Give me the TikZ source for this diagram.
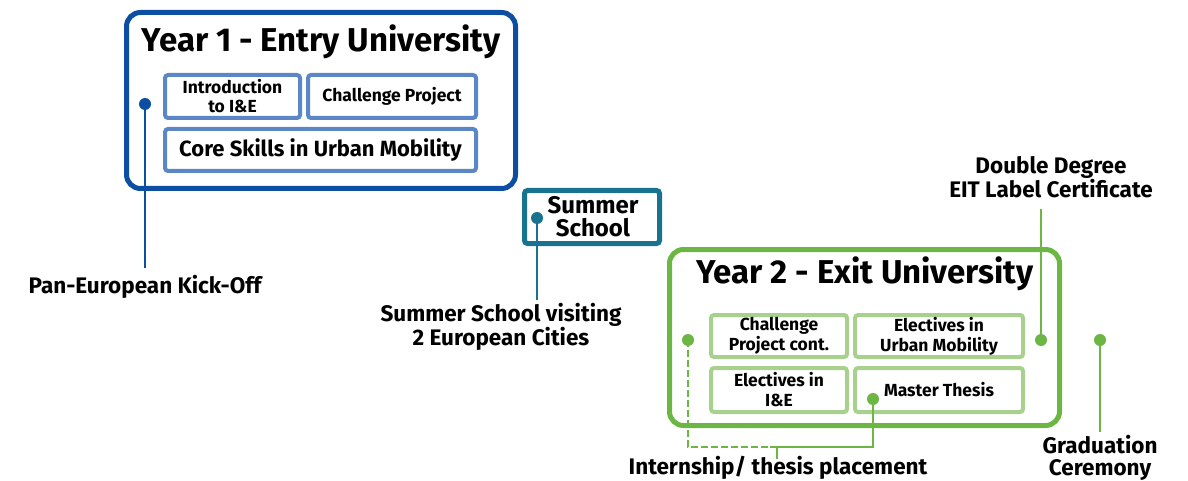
\documentclass[tikz,border=0pt]{standalone}
\usepackage{fontspec}
\setmainfont{Fira Sans}
\definecolor{dblue}{HTML}{0B4EA2}
\definecolor{lblue}{HTML}{5B87C6}
\definecolor{teal2}{HTML}{17738F}
\definecolor{dgreen}{HTML}{6CB644}
\definecolor{lgreen}{HTML}{A9D18E}
\tikzset{
  outerbox/.style={draw, line width=5pt, rounded corners=14pt, inner sep=0pt, anchor=center},
  innerbox/.style={draw, line width=4pt, rounded corners=3pt, inner sep=0pt, align=center, anchor=center, font=\bfseries\fontsize{17.5}{19}\selectfont},
  dot/.style={circle, fill, inner sep=0pt, minimum size=12pt},
  lab/.style={inner sep=0pt, align=center, font=\bfseries\fontsize{22.5}{21.5}\selectfont},
  title/.style={inner sep=0pt, font=\bfseries\fontsize{33}{33}\selectfont},
  conn/.style={line width=2.2pt}
}
\begin{document}
\begin{tikzpicture}[x=1pt,y=-1pt]
\useasboundingbox (0,0) rectangle (1188,481);
% Year 1
\node[outerbox, dblue, minimum width=389pt, minimum height=176pt] (y1) at (321,100.5) {};
\node[title] (y1t) at (321,42) {Year 1 - Entry University};
\node[innerbox, lblue, text=black, minimum width=135pt, minimum height=43pt] (intro) at (232.5,96.5) {Introduction\\to I\&E};
\node[innerbox, lblue, text=black, minimum width=168pt, minimum height=43pt] (chal) at (392,96.5) {Challenge Project};
\node[innerbox, lblue, text=black, minimum width=311pt, minimum height=42pt, font=\bfseries\fontsize{22}{20}\selectfont] (core) at (320.5,150) {Core Skills in Urban Mobility};
% Summer school
\node[outerbox, teal2, rounded corners=3pt, minimum width=135pt, minimum height=53pt] (ss) at (592,217) {};
\node[title, align=center, font=\bfseries\fontsize{24}{23}\selectfont] (sst) at (593,217) {Summer\\School};
% Year 2
\node[outerbox, dgreen, minimum width=390pt, minimum height=176pt] (y2) at (864.5,337.5) {};
\node[title] (y2t) at (865,274) {Year 2 - Exit University};
\node[innerbox, lgreen, text=black, minimum width=136pt, minimum height=42pt] (cpc) at (779,336) {Challenge\\[1pt]Project cont.};
\node[innerbox, lgreen, text=black, minimum width=168pt, minimum height=42pt] (eum) at (939,336) {Electives in\\[1pt]Urban Mobility};
\node[innerbox, lgreen, text=black, minimum width=136pt, minimum height=44pt] (eie) at (779,390) {Electives in\\[1pt]I\&E};
\node[innerbox, lgreen, text=black, minimum width=168pt, minimum height=44pt] (mt) at (939,390) {Master Thesis};
% Pan-European
\node[dot, dblue] (d1) at (145,104) {};
\node[lab] (l1) at (145,287) {Pan-European Kick-Off};
\coordinate (e1) at (145,268);
\draw[conn, dblue] (d1.center) -- (e1);
% Summer school visiting
\node[dot, teal2] (d2) at (537,218) {};
\node[lab] (l2) at (501,327) {Summer School visiting\\2 European Cities};
\coordinate (e2) at (537,300);
\draw[conn, teal2] (d2.center) -- (e2);
% Double degree
\node[dot, dgreen] (d3) at (1041,340) {};
\node[lab] (l3) at (1051,177) {Double Degree\\EIT Label Certificate};
\coordinate (e3) at (1041,209);
\draw[conn, dgreen] (e3) -- (d3.center);
% Graduation
\node[dot, dgreen] (d4) at (1100,340) {};
\node[lab] (l4) at (1100,458) {Graduation\\Ceremony};
\coordinate (e4) at (1100,432);
\draw[conn, dgreen] (d4.center) -- (e4);
% Internship
\node[dot, dgreen] (d5) at (688,340) {};
\node[dot, dgreen] (d6) at (873,399) {};
\node[lab] (l5) at (778,468) {Internship/ thesis placement};
\coordinate (c1) at (688,447);
\coordinate (c2) at (770,447);
\coordinate (c3) at (873,447);
\coordinate (t1) at (777,447);
\coordinate (t2) at (777,459);
\draw[conn, dgreen, dash pattern=on 7pt off 3pt] (d5.center) -- (c1) -- (c2);
\draw[conn, dgreen] (c2) -- (c3) -- (d6.center);
\draw[conn, dgreen] (t1) -- (t2);
\end{tikzpicture}
\end{document}
